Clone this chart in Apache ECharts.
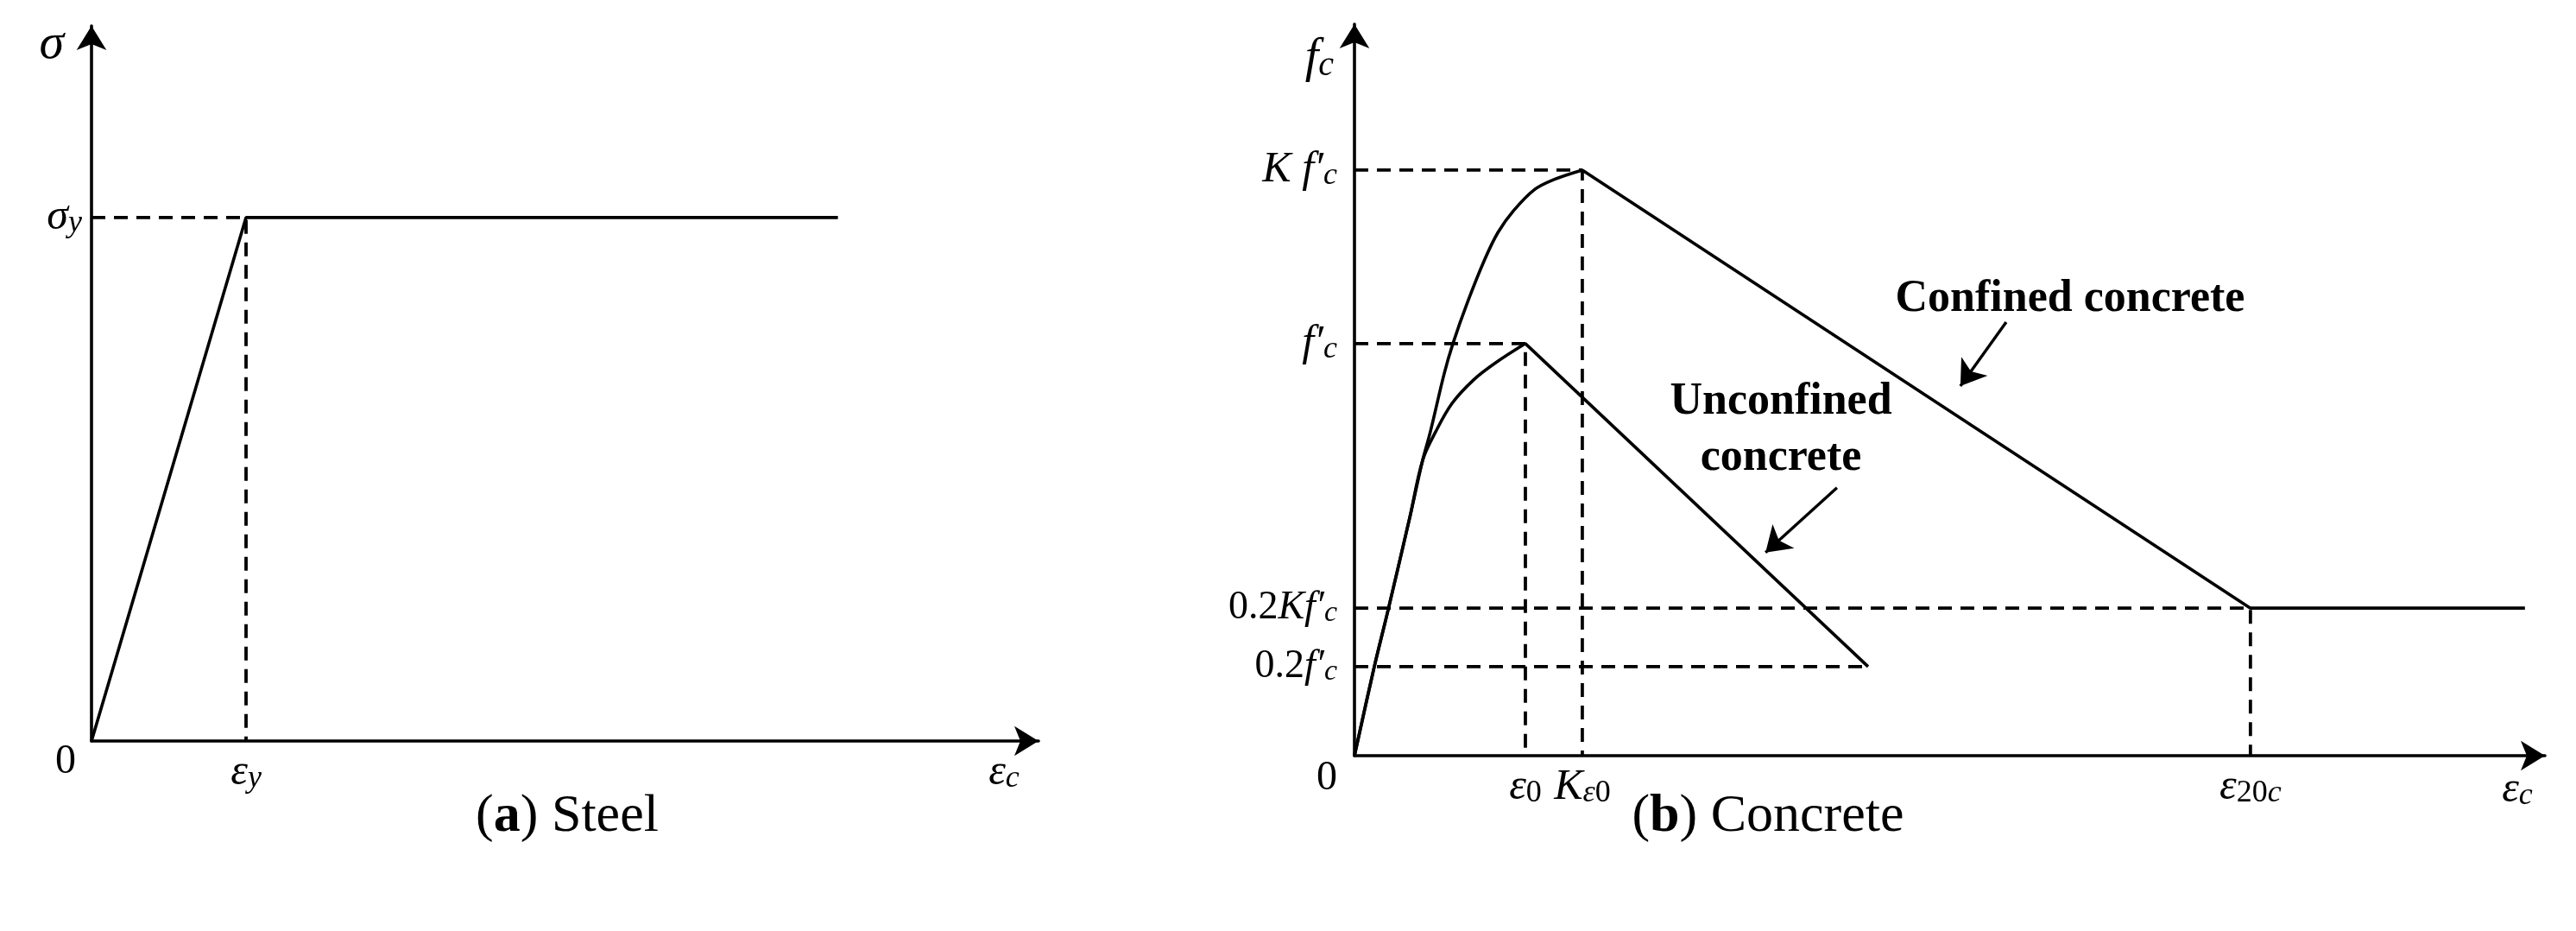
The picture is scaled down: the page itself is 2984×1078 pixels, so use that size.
<!DOCTYPE html>
<html><head><meta charset="utf-8">
<script src="https://cdn.jsdelivr.net/npm/echarts@6/dist/echarts.min.js"></script>
<style>html,body{margin:0;padding:0;background:#fff}#c{width:2984px;height:1078px}</style>
</head><body><div id="c"></div>
<script>
// ---------- data (normalised units) ----------
// (a) Steel: strain in units of eps_y, stress in units of sigma_y
const steelStrain = [0, 1, 4.83];
const steelStress = [0, 1, 1];

// (b) Concrete: strain in units of eps_0, stress in units of f'c
const unconfAscStrain = [0, 0.116, 0.197, 0.323, 0.399, 0.475, 0.571, 0.697, 0.828, 1.0];
const unconfAscStress = [0, 0.216, 0.354, 0.577, 0.717, 0.786, 0.855, 0.912, 0.954, 1.0];
const unconfDescStrain = [1.0, 3.005];
const unconfDescStress = [1.0, 0.216];
const confAscStrain = [0, 0.116, 0.197, 0.323, 0.399, 0.444, 0.525, 0.576, 0.662, 0.763, 0.840, 0.930, 1.051, 1.167, 1.333];
const confAscStress = [0, 0.216, 0.354, 0.577, 0.717, 0.786, 0.927, 1.0, 1.101, 1.205, 1.270, 1.322, 1.373, 1.398, 1.421];
const confDescStrain = [1.333, 5.242, 6.848];
const confDescStress = [1.421, 0.358, 0.358];

// tick values and labels
const steelXTicks = [1];
const steelXTickLabels = ['{i|ε}{s|y}'];
const steelYTicks = [0, 1];
const steelYTickLabels = ['{z|0}', '{i|σ}{s|y}'];
const concXTicks = [1, 1.333, 5.242];
const concXTickLabels = ['{i|ε}{su|0}', '{i|K}{s|ε}{su|0}', '{i|ε}{su|20}{s|c}'];
const concYTicks = [0, 0.216, 0.358, 1, 1.421];
const concYTickLabels = ['{z|0}', '{u2|0.2}{i2|f′}{s2|c}', '{u2|0.2}{i2|Kf′}{s2|c}', '{i|f′}{s|c}', '{i|K f′}{s|c}'];

const annotationTexts = ['Confined concrete', 'Unconfined\nconcrete'];
const captionTexts = ['{p|(}{b|a}{p|) Steel}', '{p|(}{b|b}{p|) Concrete}'];

// ---------- layout ----------
const annoAnchors = [[4.187, 1.107], [2.495, 0.790]];
const annoArrows = [[[3.813, 1.052], [3.545, 0.897]], [[2.823, 0.650], [2.405, 0.493]]];
const captionPos = [[657, 946], [2048, 946]];

const F = '"Liberation Serif", "Times New Roman", serif';
const zip = (a, b) => a.map((v, i) => [v, b[i]]);
const lbl = (ticks, labels) => v => {
  const i = ticks.findIndex(t => Math.abs(t - v) < 1e-9);
  return i >= 0 ? labels[i] : '';
};
function richSet(z) {
  return {
    i: {fontFamily: F, fontStyle: 'italic', fontSize: 50, lineHeight: 50, color: '#000'},
    u: {fontFamily: F, fontSize: 50, lineHeight: 50, color: '#000'},
    s: {fontFamily: F, fontStyle: 'italic', fontSize: 36, lineHeight: 26, verticalAlign: 'bottom', color: '#000'},
    su: {fontFamily: F, fontSize: 36, lineHeight: 26, verticalAlign: 'bottom', color: '#000'},
    i2: {fontFamily: F, fontStyle: 'italic', fontSize: 46, lineHeight: 46, color: '#000'},
    u2: {fontFamily: F, fontSize: 46, lineHeight: 46, color: '#000'},
    s2: {fontFamily: F, fontStyle: 'italic', fontSize: 34, lineHeight: 24, verticalAlign: 'bottom', color: '#000'},
    z: Object.assign({fontFamily: F, fontSize: 48, lineHeight: 48, color: '#000'}, z || {})
  };
}
const axisLine = {show: true, onZero: false, symbol: ['none', 'arrow'], symbolSize: [26, 28],
  lineStyle: {color: '#000', width: 3.6}};
const solid = {color: '#000', width: 3.6};
const dashed = {color: '#000', width: 3.8, type: [16, 10]};

function lineSeries(xi, data, style, smooth, z) {
  return {type: 'line', xAxisIndex: xi, yAxisIndex: xi, data, showSymbol: false, symbol: 'none',
    smooth: smooth || false, lineStyle: style, z: z || 3, animation: false, silent: true};
}

const sPeak = [steelStrain[1], steelStress[1]];
const uPeak = [unconfDescStrain[0], unconfDescStress[0]];
const uEnd = [unconfDescStrain[1], unconfDescStress[1]];
const cPeak = [confDescStrain[0], confDescStress[0]];
const cRes = [confDescStrain[1], confDescStress[1]];

const option = {
  backgroundColor: '#fff',
  animation: false,
  grid: [
    {left: 106, top: 30, width: 1097, height: 828, containLabel: false},
    {left: 1569, top: 28, width: 1379, height: 847, containLabel: false}
  ],
  xAxis: [
    {type: 'value', gridIndex: 0, min: 0, max: 6.128, axisLine, axisTick: {show: false}, splitLine: {show: false},
     axisLabel: {customValues: steelXTicks, formatter: lbl(steelXTicks, steelXTickLabels), margin: 12, rich: richSet()},
     name: '{i|ε}{s|c}', nameLocation: 'end', nameGap: -40,
     nameTextStyle: {align: 'center', verticalAlign: 'middle', padding: [74, 0, 0, 0], rich: richSet()}},
    {type: 'value', gridIndex: 1, min: 0, max: 6.965, axisLine, axisTick: {show: false}, splitLine: {show: false},
     axisLabel: {customValues: concXTicks, formatter: lbl(concXTicks, concXTickLabels), margin: 12, rich: richSet()},
     name: '{i|ε}{s|c}', nameLocation: 'end', nameGap: -32,
     nameTextStyle: {align: 'center', verticalAlign: 'middle', padding: [80, 0, 0, 0], rich: richSet()}}
  ],
  yAxis: [
    {type: 'value', gridIndex: 0, min: 0, max: 1.366, axisLine, axisTick: {show: false}, splitLine: {show: false},
     axisLabel: {customValues: steelYTicks, formatter: lbl(steelYTicks, steelYTickLabels), margin: 11,
                 rich: richSet({padding: [48, 7, 0, 0]})},
     name: '{n|σ}', nameLocation: 'end', nameGap: -22,
     nameTextStyle: {align: 'right', verticalAlign: 'middle', padding: [0, 32, 0, 0],
                     rich: {n: {fontFamily: F, fontStyle: 'italic', fontSize: 58, color: '#000'}}}},
    {type: 'value', gridIndex: 1, min: 0, max: 1.775, axisLine, axisTick: {show: false}, splitLine: {show: false},
     axisLabel: {customValues: concYTicks, formatter: lbl(concYTicks, concYTickLabels), margin: 20,
                 rich: richSet({padding: [52, 0, 0, 0]})},
     name: '{n|f}{m|c}', nameLocation: 'end', nameGap: -40,
     nameTextStyle: {align: 'right', verticalAlign: 'middle', padding: [0, 24, 0, 0],
                     rich: {n: {fontFamily: F, fontStyle: 'italic', fontSize: 56, lineHeight: 56, color: '#000'},
                            m: {fontFamily: F, fontStyle: 'italic', fontSize: 40, lineHeight: 30, verticalAlign: 'bottom', color: '#000'}}}}
  ],
  series: [
    // (a) steel
    lineSeries(0, [[0, sPeak[1]], sPeak, [sPeak[0], 0]], dashed, false, 2),
    lineSeries(0, zip(steelStrain, steelStress), solid, false, 3),
    // (b) concrete guides
    lineSeries(1, [[0, cPeak[1]], cPeak, [cPeak[0], 0]], dashed, false, 2),
    lineSeries(1, [[0, uPeak[1]], uPeak, [uPeak[0], 0]], dashed, false, 2),
    lineSeries(1, [[0, cRes[1]], cRes, [cRes[0], 0]], dashed, false, 2),
    lineSeries(1, [[0, uEnd[1]], uEnd], dashed, false, 2),
    // (b) curves
    lineSeries(1, zip(unconfAscStrain, unconfAscStress), solid, 0.35, 3),
    lineSeries(1, zip(unconfDescStrain, unconfDescStress), solid, false, 3),
    lineSeries(1, zip(confAscStrain, confAscStress), solid, 0.35, 3),
    lineSeries(1, zip(confDescStrain, confDescStress), solid, false, 3),
    // annotation arrows
    {type: 'lines', coordinateSystem: 'cartesian2d', xAxisIndex: 1, yAxisIndex: 1, animation: false, silent: true,
     symbol: ['none', 'arrow'], symbolSize: [22, 28], z: 5,
     lineStyle: {color: '#000', width: 3.4, opacity: 1, curveness: 0},
     data: annoArrows.map(c => ({coords: c}))}
  ]
};
const chart = echarts.init(document.getElementById('c'), null, {renderer: 'canvas'});
chart.setOption(option);

// annotation texts placed through the concrete grid's scales, plus captions
const capRich = {
  p: {fontFamily: F, fontSize: 62, fontWeight: 'normal', lineHeight: 70, fill: '#000', color: '#000'},
  b: {fontFamily: F, fontSize: 62, fontWeight: 'bold', lineHeight: 70, fill: '#000', color: '#000'}
};
const graphics = annoAnchors.map((p, i) => {
  const px = chart.convertToPixel({gridIndex: 1}, p);
  return {type: 'text', x: px[0], y: px[1], z: 10, silent: true,
    style: {text: annotationTexts[i], fill: '#000', font: 'bold 52px ' + F, align: 'center',
            verticalAlign: 'middle', lineHeight: 65}};
}).concat(captionTexts.map((t, i) => ({
  type: 'text', x: captionPos[i][0], y: captionPos[i][1], z: 10, silent: true,
  style: {text: t, rich: capRich, fill: '#000', font: '62px ' + F, align: 'center', verticalAlign: 'middle'}
})));
chart.setOption({graphic: graphics});
</script></body></html>
